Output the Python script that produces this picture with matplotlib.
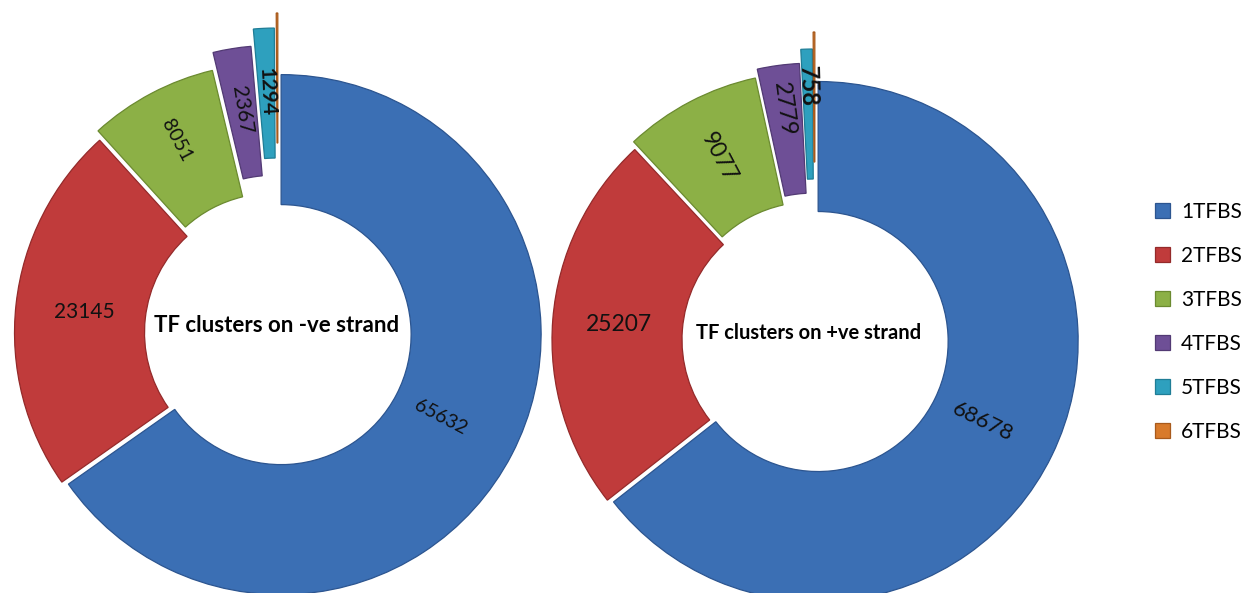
import math
import matplotlib
matplotlib.use("Agg")
import matplotlib.pyplot as plt

plt.rcParams['font.family'] = ['Lato', 'DejaVu Sans']

# Cluster counts by number of TF binding sites
categories = ['1TFBS', '2TFBS', '3TFBS', '4TFBS', '5TFBS', '6TFBS']
minus_strand = [65632, 23145, 8051, 2367, 1294, 98]
plus_strand = [68678, 25207, 9077, 2779, 758, 112]
minus_labels = ['65632', '23145', '8051', '2367', '1294', '']
plus_labels = ['68678', '25207', '9077', '2779', '758', '']

colors = ['#3b6fb4', '#c03b3b', '#8cb046', '#6e4f96', '#2ea0be', '#d87a2b']
edges = ['#2c5590', '#942a2a', '#6b8a30', '#523a74', '#1f7d96', '#a85a1c']

W, H = 1257, 593
fig = plt.figure(figsize=(W / 100, H / 100), dpi=100)
ax = fig.add_axes([0, 0, 1, 1])

R = 260
RING = 130


def donut(values, labels, center, explode, label_dist, sizes, weights,
          title, title_size, title_xy):
    wedges, texts = ax.pie(
        values, labels=labels, colors=colors, explode=explode,
        radius=R, center=center, startangle=90, counterclock=False,
        labeldistance=0.74, rotatelabels=True,
        wedgeprops=dict(width=RING, linewidth=0.9),
    )
    for w, ec in zip(wedges, edges):
        w.set_edgecolor(ec)
    for w, t, d, fs, fw in zip(wedges, texts, label_dist, sizes, weights):
        # label sits on the radial line through the middle of its slice
        mid = math.radians(0.5 * (w.theta1 + w.theta2))
        cx, cy = w.center
        t.set_position((cx + d * R * math.cos(mid), cy + d * R * math.sin(mid)))
        rot = ((math.degrees(mid) + 90) % 180) - 90
        if abs(rot) < 10:
            rot = 0
        t.set_rotation(rot)
        t.set_ha('center')
        t.set_va('center')
        t.set_rotation_mode('anchor')
        t.set_fontsize(fs)
        t.set_fontweight(fw)
        t.set_color('#111111')
    ax.text(title_xy[0], title_xy[1], title, ha='center', va='center',
            fontsize=title_size, fontweight='bold', color='black')
    return wedges


# explode offsets are in the same pixel units as the radius
left_wedges = donut(minus_strand, minus_labels, (278, H - 333),
                    [3.5, 3.5, 11, 28, 45, 60],
                    [0.69, 0.735, 0.795, 0.76, 0.755, 0.7],
                    [14, 15, 14, 15, 15, 10],
                    ['normal', 'normal', 'normal', 'normal', 'bold', 'normal'],
                    'TF clusters on -ve strand', 16, (277, H - 325))

donut(plus_strand, plus_labels, (815, H - 340),
      [3.5, 3, 9, 17, 31, 48],
      [0.705, 0.745, 0.76, 0.83, 0.855, 0.7],
      [16, 16.5, 16.5, 17, 17, 10],
      ['normal', 'normal', 'normal', 'normal', 'bold', 'normal'],
      'TF clusters on +ve strand', 14.5, (809, H - 333))

ax.set_xlim(0, W)
ax.set_ylim(0, H)
ax.set_aspect('equal')
ax.axis('off')

fig.legend(left_wedges, categories, loc='upper left',
           bbox_to_anchor=(1155 / W, 1 - 202 / H), frameon=False,
           fontsize=15, handlelength=0.7, handleheight=0.7,
           handletextpad=0.55, labelspacing=1.15, borderpad=0,
           borderaxespad=0)

fig.savefig('out.png', dpi=100, facecolor='white')
